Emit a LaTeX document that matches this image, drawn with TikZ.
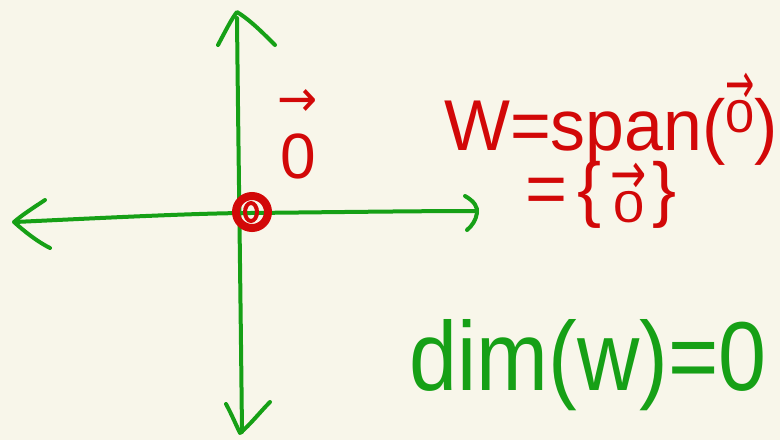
\documentclass[tikz,border=0pt]{standalone}
\usepackage{fontspec}
\usepackage{graphicx}
\setmainfont{Liberation Sans}
\newfontfamily\arrowfont{DejaVu Sans}
\definecolor{bgcol}{RGB}{248,246,234}
\definecolor{pengreen}{RGB}{22,160,22}
\definecolor{penred}{RGB}{210,8,8}
% #1 h-scale of 0, #2 v-scale of 0, #3 raise of 0, #4 h-scale of arrow, #5 raise of arrow
\newcommand{\zvec}[5]{{\setbox0\hbox{\raisebox{#3}{\scalebox{#1}[#2]{0}}}\rlap{\hbox to\wd0{\hss\raisebox{#5}{\scalebox{#4}[0.8]{\arrowfont →}}\hss}}\box0}}
\begin{document}
\begin{tikzpicture}[x=1pt,y=-1pt,
  axis/.style={draw=pengreen,line width=4pt,line cap=round,line join=round},
  redtext/.style={text=penred,inner sep=0pt,anchor=base},
  greentext/.style={text=pengreen,inner sep=0pt,anchor=center}]
\useasboundingbox (0,0) rectangle (780,440);
\fill[bgcol] (0,0) rectangle (780,440);
% vertical axis
\draw[axis] (237,18) .. controls (238,120) and (240,250) .. (242,432);
\draw[axis] (218,45) .. controls (226,30) and (232,18) .. (237,12) .. controls (250,20) and (262,32) .. (275,45);
\draw[axis] (226,404) .. controls (232,415) and (236,425) .. (240,433) .. controls (250,425) and (260,412) .. (270,402);
% horizontal axis
\draw[axis] (15,222) .. controls (100,218) and (200,213) .. (250,213) .. controls (350,212) and (420,211) .. (477,211);
\draw[axis] (45,200) .. controls (33,208) and (22,215) .. (14,222) .. controls (25,232) and (38,242) .. (50,248);
\draw[axis] (465,196) .. controls (474,201) and (478,207) .. (477,213) .. controls (476,220) and (472,226) .. (467,230);
% origin
\draw[penred,line width=8pt] (252,212) ellipse [x radius=16pt,y radius=16pt];
\draw[penred,line width=4pt] (251,212) ellipse [x radius=6pt,y radius=9pt];
% labels
\node[redtext,font=\fontsize{64}{64}\selectfont] (zero) at (298,178) {\zvec{1}{1}{0pt}{0.75}{0.96em}};
\node[redtext,font=\fontsize{72}{72}\selectfont] (span) at (611,150) {\scalebox{0.97}[1]{W=span(\zvec{0.75}{0.64}{0.24em}{0.5}{0.64em})}};
\node[redtext,font=\fontsize{72}{72}\selectfont] (set) at (601,213) {=\hspace{10pt}\{\hspace{12pt}\zvec{0.78}{0.62}{-0.125em}{0.6}{0.27em}\hspace{8pt}\}};
\node[greentext,font=\fontsize{98}{98}\selectfont] (dim) at (588,365) {\scalebox{0.88}[1]{dim(w)=0}};
\end{tikzpicture}
\end{document}
